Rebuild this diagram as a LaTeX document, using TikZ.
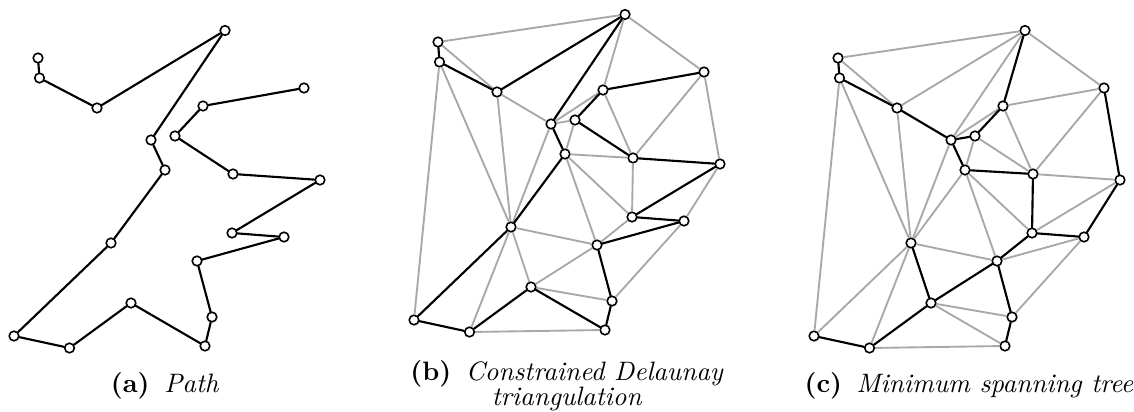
\documentclass[tikz,border=0pt]{standalone}
\begin{document}
\begin{tikzpicture}[x=0.375pt,y=-0.375pt,
  vdot/.style={circle,draw=black,fill=white,line width=0.6pt,inner sep=0pt,minimum size=3.6pt},
  blk/.style={draw=black,line width=0.8pt,line cap=round},
  gry/.style={draw={rgb,255:red,168;green,168;blue,168},line width=0.7pt},
  captext/.style={font=\normalsize,align=center,inner sep=0pt}]
\useasboundingbox (0,0) rectangle (1134,412);
% points of the three panels
\foreach \p/\dx/\dy in {a/0/0,b/400/-16,c/800/0}{
  \foreach \i/\x/\y in {1/38/58,2/39.5/78,3/97/108,4/225/30.5,5/151/140,6/165/170,
    7/111/243,8/14/336,9/69.5/348,10/131/303,11/205/346,12/212/317,13/197/261,
    14/284/237,15/232/233,16/320/180,17/233/174,18/175/136,19/203/106,20/304/88}{
    \node[vdot] (\p\i) at (\x+\dx,\y+\dy) {};
  }
}
% (b) triangulation edges not on the path
\foreach \u/\v in {1/4,1/3,2/8,2/7,3/7,3/5,4/19,4/20,5/19,5/18,5/7,6/18,6/17,6/15,6/13,
  17/19,17/20,16/20,15/17,14/16,7/13,7/10,7/9,9/11,10/13,10/12,13/15,12/14}{
  \draw[gry] (b\u) -- (b\v);
}
% (c) triangulation edges not in the tree
\foreach \u/\v in {3/4,4/5,6/7,7/8,10/11,13/14,15/16,16/17,17/18,19/20,
  1/4,1/3,2/8,2/7,3/7,4/20,5/19,5/7,6/18,6/15,6/13,17/19,17/20,7/13,7/9,9/11,10/12,12/14}{
  \draw[gry] (c\u) -- (c\v);
}
% path in (a) and (b)
\foreach \p in {a,b}{
  \foreach \u/\v in {1/2,2/3,3/4,4/5,5/6,6/7,7/8,8/9,9/10,10/11,11/12,12/13,13/14,
    14/15,15/16,16/17,17/18,18/19,19/20}{
    \draw[blk] (\p\u) -- (\p\v);
  }
}
% minimum spanning tree in (c)
\foreach \u/\v in {1/2,2/3,3/5,5/6,5/18,18/19,4/19,6/17,15/17,14/15,14/16,16/20,
  13/15,12/13,11/12,10/13,9/10,8/9,7/10}{
  \draw[blk] (c\u) -- (c\v);
}
% captions
\node[captext] (capa) at (165,386) {\textbf{(a)}\hspace{5.5pt}\textit{Path}};
\node[captext] (capb) at (567,386) {\textbf{(b)}\hspace{5.5pt}\textit{Constrained Delaunay}\\[-2.5pt]\textit{triangulation}};
\node[captext] (capc) at (969,386) {\textbf{(c)}\hspace{5.5pt}\textit{Minimum spanning tree}};
\end{tikzpicture}
\end{document}
